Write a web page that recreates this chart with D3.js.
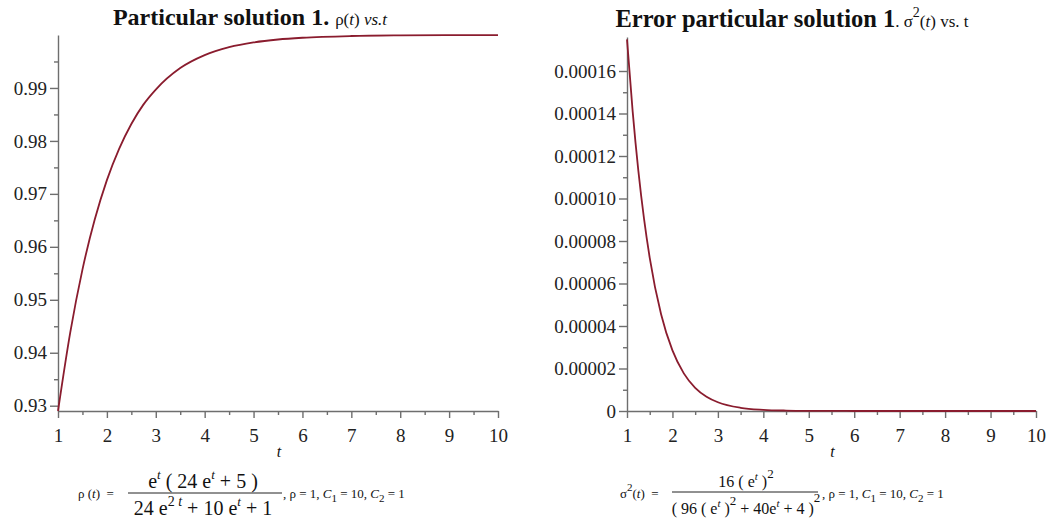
<!DOCTYPE html>
<html lang="en">
  <head>
    <meta charset="utf-8" />
    <title>Particular solution 1</title>
    <style>
      body { margin: 0; background: #fff; }
      svg text { font-family: "Liberation Serif", "DejaVu Serif", serif; fill: #111; }
      .axis path, .axis line { stroke: #6e6e6e; stroke-width: 1.4px; }
      .axis text { fill: #222; }
      .curve { fill: none; stroke: #8a1c2e; stroke-width: 1.8px; }
    </style>
  </head>
  <body>
    <div id="vis"></div>
    <script src="https://d3js.org/d3.v7.min.js"></script>
    <script>
      // rho(t)
      const rhoT = [1, 1.25, 1.5, 1.75, 2, 2.25, 2.5, 2.75, 3, 3.5, 4, 4.5, 5, 5.5, 6, 7, 8, 9, 10];
      const rhoV = [0.9290, 0.9438, 0.9557, 0.9651, 0.9726, 0.9785, 0.9832, 0.9869, 0.9897,
                    0.99375, 0.9962, 0.99769, 0.9986, 0.99915, 0.99948, 0.99981, 0.99993, 0.99997, 0.99999];
      // sigma^2(t)
      const sigT = [1, 1.125, 1.25, 1.375, 1.5, 1.75, 2, 2.25, 2.5, 2.75, 3, 3.5, 4, 4.5, 5, 6, 7, 8, 9, 10];
      const sigV = [1.749e-4, 1.409e-4, 1.130e-4, 9.04e-5, 7.21e-5, 4.55e-5, 2.85e-5, 1.77e-5, 1.09e-5,
                    6.7e-6, 4.1e-6, 1.5e-6, 5.7e-7, 2.1e-7, 7.9e-8, 1.1e-8, 1.4e-9, 2e-10, 3e-11, 4e-12];
      const xTicks = [1, 2, 3, 4, 5, 6, 7, 8, 9, 10];
      const rhoTicks = [0.93, 0.94, 0.95, 0.96, 0.97, 0.98, 0.99];
      const sigTicks = [0, 0.00002, 0.00004, 0.00006, 0.00008, 0.00010, 0.00012, 0.00014, 0.00016];

      const FONT = "Liberation Serif, DejaVu Serif, serif";
      const svg = d3.select("#vis").append("svg").attr("width", 1052).attr("height", 525);

      function panel(o) {
        const g = svg.append("g");
        const x = d3.scaleLinear().domain([1, 10]).range(o.xr);
        const y = d3.scaleLinear().domain(o.yd).range([411, o.top]);

        // minor ticks
        const minorX = d3.range(1.5, 10, 1);
        g.append("g").attr("class", "axis").attr("transform", `translate(0,411)`)
          .call(d3.axisBottom(x).tickValues(minorX).tickSize(4).tickFormat(""))
          .select(".domain").remove();
        g.append("g").attr("class", "axis").attr("transform", `translate(${o.xr[0]},0)`)
          .call(d3.axisLeft(y).tickValues(o.minor).tickSize(4).tickFormat(""))
          .select(".domain").remove();

        g.append("g").attr("class", "axis").attr("transform", `translate(0,411)`)
          .call(d3.axisBottom(x).tickValues(xTicks).tickSize(7).tickSizeOuter(0).tickPadding(11).tickFormat(d3.format("d")))
          .attr("font-family", FONT).attr("font-size", 19);
        g.append("g").attr("class", "axis").attr("transform", `translate(${o.xr[0]},0)`)
          .call(d3.axisLeft(y).tickValues(o.ticks).tickSize(8).tickSizeOuter(0).tickPadding(3).tickFormat(o.fmt))
          .attr("font-family", FONT).attr("font-size", 19);

        const line = d3.line().x((d, i) => x(o.t[i])).y(d => y(d)).curve(d3.curveMonotoneX);
        g.append("path").attr("class", "curve").attr("d", line(o.v));

        g.append("text").attr("x", (o.xr[0] + o.xr[1]) / 2 + 1).attr("y", 457)
          .attr("text-anchor", "middle").attr("font-style", "italic").attr("font-size", 16).text("t");
      }

      panel({
        xr: [58, 498], yd: [0.929, 1.0], top: 35, t: rhoT, v: rhoV, ticks: rhoTicks,
        minor: d3.range(0.935, 1.0, 0.01), fmt: d3.format(".2f")
      });
      panel({
        xr: [627, 1036], yd: [0, 0.000176], top: 37, t: sigT, v: sigV, ticks: sigTicks,
        minor: d3.range(0.00001, 0.00017, 0.00002), fmt: d => d === 0 ? "0" : d3.format(".5f")(d)
      });

      // titles
      const t1 = svg.append("text").attr("x", 250).attr("y", 25).attr("text-anchor", "middle");
      t1.append("tspan").attr("font-weight", "bold").attr("font-size", 24).text("Particular solution 1. ");
      t1.append("tspan").attr("font-size", 17).text("ρ(");
      t1.append("tspan").attr("font-size", 17).attr("font-style", "italic").text("t");
      t1.append("tspan").attr("font-size", 17).text(") ");
      t1.append("tspan").attr("font-size", 17).attr("font-style", "italic").text("vs.t");

      const t2 = svg.append("text").attr("x", 792).attr("y", 27).attr("text-anchor", "middle");
      t2.append("tspan").attr("font-weight", "bold").attr("font-size", 24.5).text("Error particular solution 1");
      t2.append("tspan").attr("font-size", 17).text(". σ");
      t2.append("tspan").attr("font-size", 14).attr("dy", -10).text("2");
      t2.append("tspan").attr("font-size", 17).attr("dy", 10).text("(");
      t2.append("tspan").attr("font-size", 17).attr("font-style", "italic").text("t");
      t2.append("tspan").attr("font-size", 17).text(") vs. t");

      // formula helpers
      function frac(cx, num, den, x1, x2, by) {
        svg.append("line").attr("x1", x1).attr("x2", x2).attr("y1", by).attr("y2", by)
          .attr("stroke", "#222").attr("stroke-width", 1);
        const n = svg.append("text").attr("x", cx).attr("y", by - 5).attr("text-anchor", "middle")
          .attr("xml:space", "preserve");
        num(n);
        const d = svg.append("text").attr("x", cx).attr("y", by + 22).attr("text-anchor", "middle")
          .attr("xml:space", "preserve");
        den(d);
      }
      function tail(x, y) {
        const s = svg.append("text").attr("x", x).attr("y", y).attr("font-size", 13);
        s.append("tspan").text(", ρ = 1, ");
        s.append("tspan").attr("font-style", "italic").text("C");
        s.append("tspan").attr("font-size", 11).attr("dy", 4).text("1");
        s.append("tspan").attr("dy", -4).text(" = 10, ");
        s.append("tspan").attr("font-style", "italic").text("C");
        s.append("tspan").attr("font-size", 11).attr("dy", 4).text("2");
        s.append("tspan").attr("dy", -4).text(" = 1");
      }

      // left formula
      const l = svg.append("text").attr("x", 78).attr("y", 498).attr("font-size", 13)
        .attr("xml:space", "preserve");
      l.append("tspan").text("ρ (");
      l.append("tspan").attr("font-style", "italic").text("t");
      l.append("tspan").text(")  =");
      frac(203,
        n => {
          n.attr("font-size", 20);
          n.append("tspan").text("e");
          n.append("tspan").attr("font-size", 13).attr("font-style", "italic").attr("dy", -9).text("t");
          n.append("tspan").attr("dy", 9).text(" ( 24 e");
          n.append("tspan").attr("font-size", 13).attr("font-style", "italic").attr("dy", -9).text("t");
          n.append("tspan").attr("dy", 9).text(" + 5 )");
        },
        d => {
          d.attr("font-size", 20);
          d.append("tspan").text("24 e");
          d.append("tspan").attr("font-size", 14).attr("dy", -9).text("2 ");
          d.append("tspan").attr("font-size", 14).attr("font-style", "italic").text("t");
          d.append("tspan").attr("dy", 9).text(" + 10 e");
          d.append("tspan").attr("font-size", 13).attr("font-style", "italic").attr("dy", -9).text("t");
          d.append("tspan").attr("dy", 9).text(" + 1");
        },
        128, 282, 493);
      tail(283, 498);

      // right formula
      const r = svg.append("text").attr("x", 620).attr("y", 498).attr("font-size", 13)
        .attr("xml:space", "preserve");
      r.append("tspan").text("σ");
      r.append("tspan").attr("font-size", 11).attr("dy", -7).text("2");
      r.append("tspan").attr("dy", 7).text("(");
      r.append("tspan").attr("font-style", "italic").text("t");
      r.append("tspan").text(")  =");
      frac(746,
        n => {
          n.attr("font-size", 16);
          n.append("tspan").text("16 ( e");
          n.append("tspan").attr("font-size", 11).attr("font-style", "italic").attr("dy", -7).text("t");
          n.append("tspan").attr("dy", 7).text(" )");
          n.append("tspan").attr("font-size", 13).attr("dy", -9).text("2");
        },
        d => {
          d.attr("font-size", 16);
          d.append("tspan").text("( 96 ( e");
          d.append("tspan").attr("font-size", 11).attr("font-style", "italic").attr("dy", -7).text("t");
          d.append("tspan").attr("dy", 7).text(" )");
          d.append("tspan").attr("font-size", 13).attr("dy", -9).text("2");
          d.append("tspan").attr("dy", 9).text(" + 40e");
          d.append("tspan").attr("font-size", 11).attr("font-style", "italic").attr("dy", -7).text("t");
          d.append("tspan").attr("dy", 7).text(" + 4 )");
          d.append("tspan").attr("font-size", 13).attr("dy", -12).text("2");
        },
        672, 818, 492);
      tail(822, 498);
    </script>
  </body>
</html>
